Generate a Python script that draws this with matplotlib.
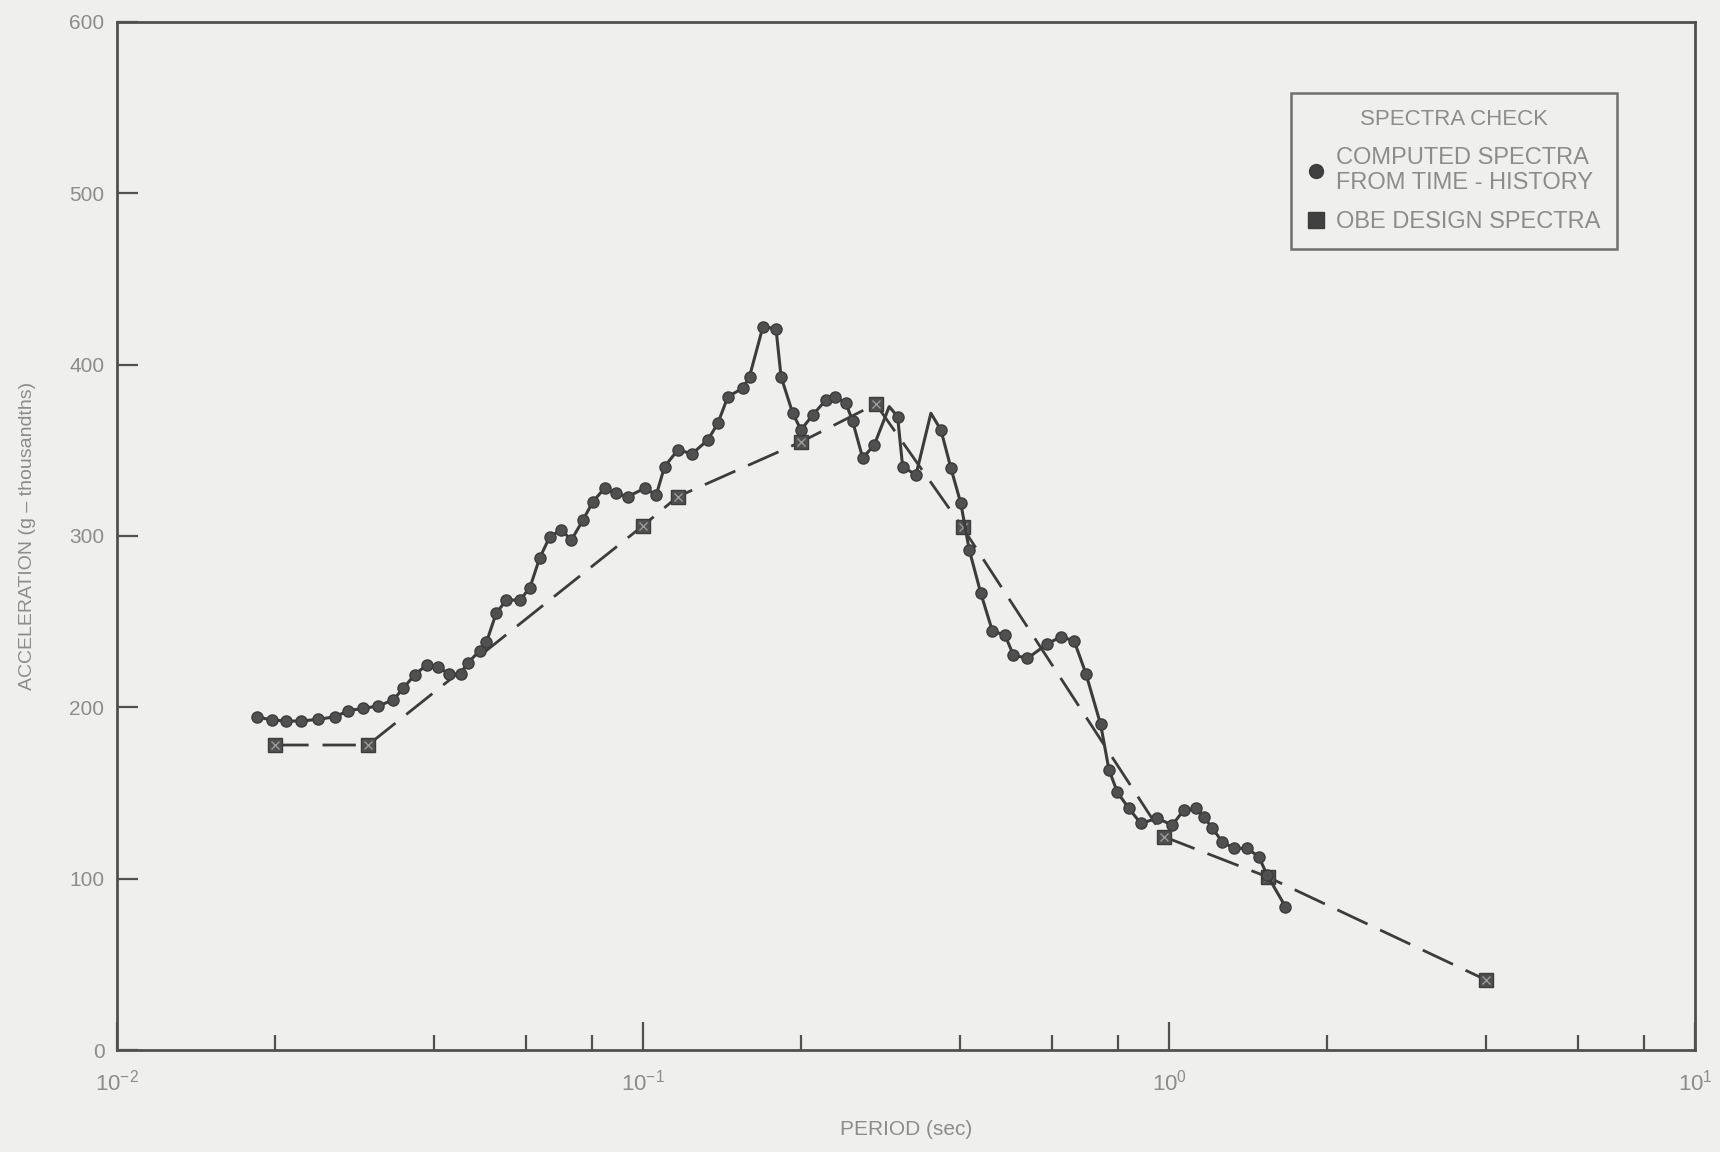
import matplotlib
matplotlib.use("Agg")
import matplotlib.pyplot as plt
from matplotlib.lines import Line2D
from matplotlib.ticker import LogLocator, NullFormatter, FixedLocator

# ---- data ----
computed_period = [0.01844, 0.0197, 0.0210, 0.0224, 0.0241, 0.0260, 0.0275, 0.0294, 0.0314, 0.0335,
                   0.0350, 0.0368, 0.0388, 0.0408, 0.0428, 0.0450, 0.0465, 0.0489, 0.0504, 0.0526,
                   0.0550, 0.0583, 0.0609, 0.0636, 0.0665, 0.0699, 0.0731, 0.0769, 0.0803, 0.0845,
                   0.0889, 0.0936, 0.1007, 0.1060, 0.1099, 0.1165, 0.1240, 0.1328, 0.1388, 0.1450,
                   0.1548, 0.1594, 0.1690, 0.1790, 0.1830, 0.1926, 0.1997, 0.2102, 0.2228, 0.2320,
                   0.2432, 0.2503, 0.2616, 0.2752, 0.2938, 0.3048, 0.3116, 0.3303, 0.3526, 0.3684,
                   0.3850, 0.4020, 0.4170, 0.4387, 0.4616, 0.4876, 0.5060, 0.5380, 0.5870, 0.6226,
                   0.6600, 0.6950, 0.7413, 0.7690, 0.7980, 0.8390, 0.8835, 0.9500, 1.0144, 1.0670,
                   1.1230, 1.1650, 1.2090, 1.2620, 1.3280, 1.4080, 1.4810, 1.5370, 1.6650]
computed_accel = [194.5, 192.6, 192.0, 192.0, 193.0, 194.5, 198.0, 199.4, 200.8, 204.3,
                  211.0, 219.0, 224.7, 223.5, 219.5, 219.5, 226.0, 233.0, 238.0, 255.0,
                  262.6, 262.6, 269.5, 287.0, 299.6, 303.5, 297.7, 309.3, 320.0, 327.8,
                  324.9, 323.0, 327.8, 324.0, 340.5, 350.2, 348.0, 356.0, 365.8, 381.3,
                  386.2, 393.0, 422.0, 421.0, 393.0, 371.6, 361.9, 370.6, 379.4, 381.3,
                  377.4, 367.0, 345.5, 353.1, 375.5, 369.7, 340.5, 335.6, 371.6, 361.9,
                  339.5, 319.0, 292.0, 266.6, 244.5, 242.2, 230.5, 228.6, 237.0, 241.2,
                  238.8, 219.7, 190.0, 163.4, 150.3, 141.0, 132.3, 135.2, 131.3, 140.1,
                  141.0, 136.2, 129.4, 121.6, 117.7, 117.7, 112.8, 102.1, 83.6]
# points drawn without a marker (smooth crests in the original)
unmarked_period = [0.2938, 0.3526]

design_period = [0.02, 0.03, 0.1, 0.1165, 0.2, 0.277, 0.405, 0.978, 1.54, 4.0]
design_accel = [178, 178, 306, 323, 355, 377, 305, 124.5, 101, 41]

x_tick_values = [0.01, 0.1, 1, 10]
x_tick_labels = [r"$10^{-2}$", r"$10^{-1}$", r"$10^{0}$", r"$10^{1}$"]
y_tick_values = [0, 100, 200, 300, 400, 500, 600]

title_legend = "SPECTRA CHECK"
label_computed = "COMPUTED SPECTRA\nFROM TIME - HISTORY"
label_design = "OBE DESIGN SPECTRA"
xlabel = "PERIOD (sec)"
ylabel = "ACCELERATION (g – thousandths)"

# ---- styling ----
bg = "#efefed"
ink = "#3c3c3c"
txt = "#8c8c8c"

plt.rcParams["font.family"] = ["Liberation Sans", "DejaVu Sans"]
plt.rcParams["mathtext.fontset"] = "custom"
plt.rcParams["mathtext.rm"] = "Liberation Sans"

fig = plt.figure(figsize=(17.2, 11.52), dpi=100, facecolor=bg)
ax = fig.add_axes([0.068, 0.0885, 0.9175, 0.8925], facecolor=bg)

ax.set_xscale("log")
ax.set_xlim(0.01, 10)
ax.set_ylim(0, 600)

mark_mask = [p not in unmarked_period for p in computed_period]
ax.plot(computed_period, computed_accel, color=ink, lw=2.2, marker="o", ms=8,
        markevery=mark_mask, markerfacecolor="#505050", markeredgecolor=ink, zorder=3)
ax.plot(design_period, design_accel, color=ink, lw=2.0, linestyle=(0, (12, 5)), marker="s",
        ms=10, markerfacecolor="#505050", markeredgecolor=ink, zorder=2)
ax.plot(design_period, design_accel, linestyle="none", marker="x", ms=6, mew=1.0,
        color="#9a9a9a", zorder=2.5)

# axes / ticks
for s in ax.spines.values():
    s.set_color("#505050")
    s.set_linewidth(2.0)

ax.xaxis.set_major_locator(FixedLocator(x_tick_values))
ax.set_xticklabels(x_tick_labels)
ax.xaxis.set_minor_locator(LogLocator(base=10, subs=[2, 4, 6, 8]))
ax.xaxis.set_minor_formatter(NullFormatter())
ax.yaxis.set_major_locator(FixedLocator(y_tick_values))
ax.tick_params(axis="x", which="major", direction="in", length=20, width=1.6,
               color="#505050", labelcolor=txt, labelsize=16, pad=14)
ax.tick_params(axis="x", which="minor", direction="in", length=11, width=1.6, color="#505050")
ax.tick_params(axis="y", which="major", direction="in", length=15, width=1.6,
               color="#505050", labelcolor=txt, labelsize=15, pad=9)
ax.tick_params(axis="both", top=False, right=False)

ax.set_xlabel(xlabel, color=txt, fontsize=15, labelpad=18)
ax.set_ylabel(ylabel, color=txt, fontsize=14, labelpad=24)

# legend
h1 = Line2D([], [], linestyle="none", marker="o", ms=10, markerfacecolor="#404040",
            markeredgecolor=ink)
h2 = Line2D([], [], linestyle="none", marker="s", ms=11, markerfacecolor="#404040",
            markeredgecolor=ink)
leg = ax.legend([h1, h2], [label_computed, label_design], title=title_legend,
                loc="upper right", bbox_to_anchor=(0.9506, 0.931), borderaxespad=0,
                fontsize=17, title_fontsize=16, frameon=True, fancybox=False,
                handlelength=0.7, handletextpad=0.5, borderpad=0.7, labelspacing=0.7)
leg.get_frame().set_edgecolor("#505050")
leg.get_frame().set_linewidth(1.8)
leg.get_frame().set_facecolor(bg)
for t in leg.get_texts():
    t.set_color(txt)
leg.get_title().set_color(txt)

fig.savefig("out.png", dpi=100, facecolor=bg)
